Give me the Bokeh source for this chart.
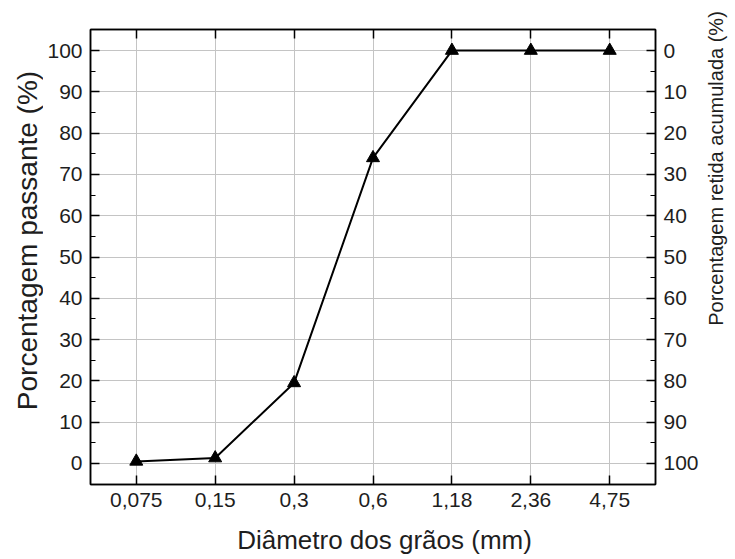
import math
from bokeh.plotting import figure
from bokeh.layouts import row, column
from bokeh.models import Range1d, LinearAxis, FixedTicker, SingleIntervalTicker
from bokeh.core.properties import value
from bokeh.embed import file_html
from bokeh.resources import INLINE

# ---- data ----
categories = ["0,075", "0,15", "0,3", "0,6", "1,18", "2,36", "4,75"]
passante = [0.5, 1.3, 19.5, 74, 100, 100, 100]
y_ticks = [0, 10, 20, 30, 40, 50, 60, 70, 80, 90, 100]
x_title = "Diâmetro dos grãos (mm)"
y_title = "Porcentagem passante (%)"
y2_title = "Porcentagem retida acumulada (%)"

x_pos = list(range(len(categories)))

FONT = "Liberation Sans"
TICK_SIZE = "21px"
TXT = "#1e1e1e"

LEFT_W, RIGHT_W, BOTTOM_H = 43, 30, 40
W, H = 735, 559
MAIN_W = W - LEFT_W - RIGHT_W
MAIN_H = H - BOTTOM_H

p = figure(width=MAIN_W, height=MAIN_H, output_backend="svg", toolbar_location=None,
           x_range=Range1d(-0.58, 6.58), y_range=Range1d(-5.1, 105.1),
           min_border_left=90 - LEFT_W, min_border_right=(W - RIGHT_W) - 655,
           min_border_top=29, min_border_bottom=MAIN_H - 484,
           x_axis_location=None, y_axis_location=None)
p.frame_align = False
p.background_fill_color = "white"
p.border_fill_color = "white"
p.outline_line_color = "black"
p.outline_line_width = 1.5

p.extra_y_ranges = {"rev": Range1d(105.1, -5.1)}

def style_axis(ax, labels=True):
    ax.axis_line_color = "black"
    ax.axis_line_width = 1.5
    ax.major_tick_line_color = "black"
    ax.major_tick_line_width = 1.5
    ax.major_tick_in = 9
    ax.major_tick_out = 0
    ax.minor_tick_line_color = "black"
    ax.minor_tick_line_width = 1
    ax.minor_tick_in = 5
    ax.minor_tick_out = 0
    ax.major_label_text_font = FONT
    ax.major_label_text_font_size = TICK_SIZE if labels else "0px"
    ax.major_label_text_color = TXT
    ax.major_label_standoff = 8
    ax.axis_label = None

xb = LinearAxis(ticker=FixedTicker(ticks=x_pos))
xb.major_label_overrides = {i: c for i, c in zip(x_pos, categories)}
style_axis(xb)
xb.minor_tick_line_color = None
p.add_layout(xb, "below")

xt = LinearAxis(ticker=FixedTicker(ticks=x_pos))
style_axis(xt, labels=False)
xt.minor_tick_line_color = None
xt.major_label_overrides = {i: "" for i in x_pos}
p.add_layout(xt, "above")

yl = LinearAxis(ticker=SingleIntervalTicker(interval=10, num_minor_ticks=2))
style_axis(yl)
p.add_layout(yl, "left")

yr = LinearAxis(y_range_name="rev", ticker=SingleIntervalTicker(interval=10, num_minor_ticks=2))
style_axis(yr)
p.add_layout(yr, "right")

p.xgrid.ticker = FixedTicker(ticks=x_pos)
p.ygrid.ticker = FixedTicker(ticks=y_ticks)
for g in (p.xgrid, p.ygrid):
    g.grid_line_color = "#c4c4c4"
    g.grid_line_width = 1

p.line(x_pos, passante, line_color="black", line_width=2)
p.scatter(x_pos, passante, marker="triangle", size=13, fill_color="black", line_color="black")


def text_panel(w, h):
    f = figure(width=w, height=h, output_backend="svg", toolbar_location=None,
               x_range=Range1d(0, w), y_range=Range1d(0, h),
               min_border=0, x_axis_location=None, y_axis_location=None)
    f.frame_align = False
    f.outline_line_color = None
    f.grid.visible = False
    f.background_fill_color = "white"
    f.border_fill_color = "white"
    return f

# title panels (pixel coordinates inside each panel, y measured from its bottom)
lf = text_panel(LEFT_W, MAIN_H)
lf.text(x=[27], y=[MAIN_H - 240], text=[y_title], angle=math.pi / 2,
        text_align="center", text_baseline="middle",
        text_font=value(FONT), text_font_size="28px", text_color=TXT)

rf = text_panel(RIGHT_W, MAIN_H)
rf.text(x=[715 - (W - RIGHT_W)], y=[MAIN_H - 168], text=[y2_title], angle=math.pi / 2,
        text_align="center", text_baseline="middle",
        text_font=value(FONT), text_font_size="20px", text_color=TXT)

bf = text_panel(W, BOTTOM_H)
bf.text(x=[384], y=[BOTTOM_H / 2], text=[x_title], text_align="center", text_baseline="middle",
        text_font=value(FONT), text_font_size="26px", text_color=TXT)

layout = column(row(lf, p, rf), bf)
open("out.html", "w").write(file_html(layout, INLINE))
